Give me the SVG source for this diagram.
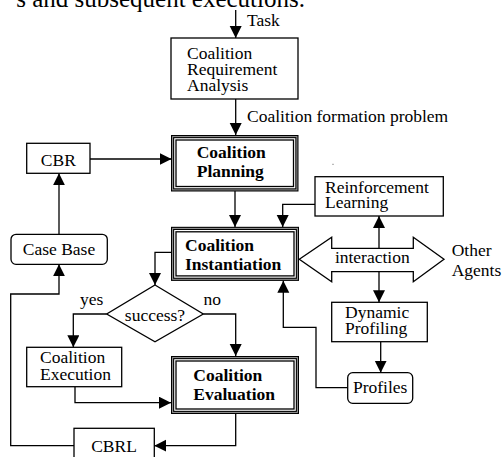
<svg xmlns="http://www.w3.org/2000/svg" width="503" height="457" viewBox="0 0 503 457">
<style>
  .t{font-family:"Liberation Serif","Times New Roman",serif;font-size:17.5px;fill:#000}
  .b{font-family:"Liberation Serif","Times New Roman",serif;font-size:17.5px;font-weight:bold;fill:#000}
  .box{fill:#fff;stroke:#000;stroke-width:1.3}
  .outer{fill:#fff;stroke:#000;stroke-width:3.2}
  .mid{fill:none;stroke:#999;stroke-width:1}
  .inner{fill:none;stroke:#000;stroke-width:1.3}
  .c{fill:none;stroke:#000;stroke-width:1.3;marker-end:url(#ah)}
  .l{fill:none;stroke:#000;stroke-width:1.3}
</style>
<defs>
  <marker id="ah" markerUnits="userSpaceOnUse" markerWidth="13" markerHeight="13" refX="12" refY="6" orient="auto">
    <path d="M0,0 L12,6 L0,12 z" fill="#000"/>
  </marker>
</defs>
<rect width="503" height="457" fill="#fff"/>
<text class="t" x="305" y="6.5" text-anchor="end" style="font-size:25px">s and subsequent executions.</text>

<g id="connectors">
  <path class="c" d="M235.7,10 V38"/>
  <path class="c" d="M235.7,99 V135"/>
  <path class="c" d="M90,159 H171.5"/>
  <path class="c" d="M59,234.3 V173.3"/>
  <path class="c" d="M74,445.7 H10.7 V294 H59 V264.3"/>
  <path class="c" d="M235.7,414 V445.7 H154.3"/>
  <path class="c" d="M235,191 V227"/>
  <path class="c" d="M315,204.3 H282.7 V227"/>
  <path class="c" d="M379,248.3 V216"/>
  <path class="c" d="M379,271.7 V302.3"/>
  <path class="c" d="M380.7,341.7 V372.7"/>
  <path class="c" d="M347.7,387.7 H316 V327.3 H283.3 V280.7"/>
  <path class="c" d="M171,252.3 H155 V285"/>
  <path class="c" d="M106.7,314 H73.3 V347.3"/>
  <path class="c" d="M203.3,314 H235.7 V356"/>
  <path class="c" d="M75,386.7 V402.7 H171"/>
  <text class="t" x="247" y="26">Task</text>
  <text class="t" x="247" y="122">Coalition formation problem</text>
  <text class="t" x="80" y="305">yes</text>
  <text class="t" x="203.5" y="305">no</text>
</g>

<g id="cra">
  <rect class="box" x="171" y="38" width="127" height="61"/>
  <text class="t" x="187" y="59">Coalition</text>
  <text class="t" x="187" y="75">Requirement</text>
  <text class="t" x="187" y="91">Analysis</text>
</g>

<g id="cp">
  <rect class="outer" x="172.6" y="136.6" width="124.3" height="53.3"/>
  <rect class="mid" x="172.6" y="136.6" width="124.3" height="53.3"/>
  <rect class="inner" x="176" y="140" width="117.5" height="46.5"/>
  <text class="b" x="196.7" y="157.7">Coalition</text>
  <text class="b" x="196.7" y="176.7">Planning</text>
</g>

<g id="cbr">
  <rect class="box" x="26.7" y="143.3" width="63.3" height="30"/>
  <text class="t" x="58.3" y="165.5" text-anchor="middle">CBR</text>
</g>

<g id="casebase">
  <rect class="box" x="11" y="234.3" width="96.3" height="30" rx="5"/>
  <text class="t" x="59" y="255" text-anchor="middle">Case Base</text>
</g>

<g id="ci">
  <rect class="outer" x="172.6" y="228.4" width="124.8" height="50.9"/>
  <rect class="mid" x="172.6" y="228.4" width="124.8" height="50.9"/>
  <rect class="inner" x="176" y="231.8" width="118" height="44.1"/>
  <text class="b" x="185" y="250.7">Coalition</text>
  <text class="b" x="185" y="270">Instantiation</text>
</g>

<g id="rl">
  <rect class="box" x="315" y="176.7" width="128.3" height="39.3"/>
  <text class="t" x="325" y="192.7">Reinforcement</text>
  <text class="t" x="325" y="208.3">Learning</text>
</g>
<rect x="332.5" y="163.8" width="1" height="1" fill="#555"/>

<g id="interaction">
  <polygon points="299.3,259.3 331.7,237.3 331.7,248.3 413.3,248.3 413.3,237.3 444,259.3 413.3,281.7 413.3,271.7 331.7,271.7 331.7,281.7" fill="#fff" stroke="#000" stroke-width="1.3"/>
  <text class="t" x="372.3" y="263.3" text-anchor="middle">interaction</text>
</g>

<g id="others">
  <text class="t" x="451.7" y="256">Other</text>
  <text class="t" x="451.7" y="275.7">Agents</text>
</g>

<g id="dp">
  <rect class="box" x="331.7" y="302.3" width="95.6" height="39.4"/>
  <text class="t" x="345" y="318.3">Dynamic</text>
  <text class="t" x="345" y="334">Profiling</text>
</g>

<g id="profiles">
  <rect class="box" x="347.7" y="372.7" width="65" height="30.6" rx="5"/>
  <text class="t" x="380.2" y="393.3" text-anchor="middle">Profiles</text>
</g>

<g id="decision">
  <polygon points="155,285 203.3,314 155,341.7 106.7,314" fill="#fff" stroke="#000" stroke-width="1.3"/>
  <text class="t" x="155" y="320.7" text-anchor="middle">success?</text>
</g>

<g id="cexec">
  <rect class="box" x="26.7" y="347.3" width="95" height="39.4"/>
  <text class="t" x="40" y="363.3">Coalition</text>
  <text class="t" x="40" y="380">Execution</text>
</g>

<g id="ceval">
  <rect class="outer" x="172.6" y="357.6" width="124.8" height="54.8"/>
  <rect class="mid" x="172.6" y="357.6" width="124.8" height="54.8"/>
  <rect class="inner" x="176" y="361" width="118" height="48"/>
  <text class="b" x="193.3" y="381">Coalition</text>
  <text class="b" x="193.3" y="400">Evaluation</text>
</g>

<g id="cbrl">
  <rect class="box" x="74" y="428.3" width="80.3" height="35"/>
  <text class="t" x="114" y="451.7" text-anchor="middle">CBRL</text>
</g>
</svg>
